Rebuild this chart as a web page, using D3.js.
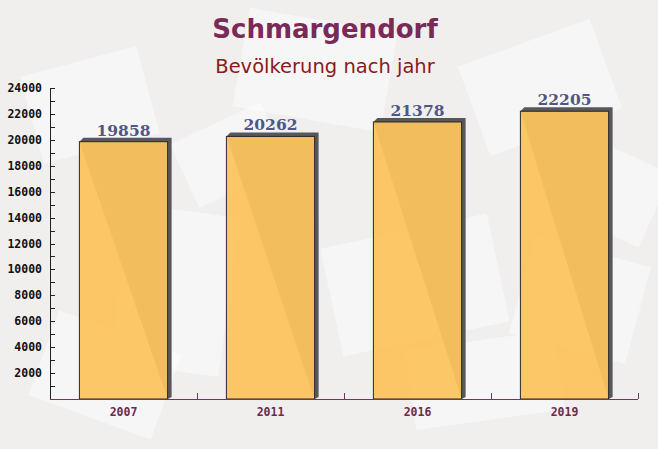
<!DOCTYPE html>
<html><head><meta charset="utf-8">
<script src="https://cdn.jsdelivr.net/npm/d3@7"></script>
<style>body{margin:0;padding:0;background:#fff}svg{display:block}</style>
</head><body>
<svg id="c" width="658" height="449"></svg>
<script>
const years = ["2007", "2011", "2016", "2019"];
const population = [19858, 20262, 21378, 22205];
const yTickValues = [2000, 4000, 6000, 8000, 10000, 12000, 14000, 16000, 18000, 20000, 22000, 24000];
const yMinorTicks = d3.range(1000, 24001, 1000);
const titleText = "Schmargendorf";
const subtitleText = "Bevölkerung nach jahr";

(function () {
const svg = d3.select("#c");
const W = 658, H = 449;
const pLeft = 50, pRight = 638, pTop = 88, pBottom = 399;

// background
svg.append("rect").attr("width", W).attr("height", H).attr("fill", "#f1eeee");
const bgShapes = [
  [30, 60, 120, 90, -15], [240, 20, 150, 100, 10], [470, 40, 140, 95, -20],
  [120, 210, 110, 160, 8], [330, 230, 170, 110, -12], [520, 250, 120, 100, 15],
  [40, 330, 130, 90, 20], [410, 340, 150, 80, -8], [560, 150, 100, 80, 25],
  [180, 120, 100, 70, -25]
];
svg.append("g").selectAll("rect").data(bgShapes).join("rect")
  .attr("x", d => d[0]).attr("y", d => d[1]).attr("width", d => d[2]).attr("height", d => d[3])
  .attr("transform", d => `rotate(${d[4]},${d[0] + d[2] / 2},${d[1] + d[3] / 2})`)
  .attr("fill", "#ffffff").attr("opacity", 0.45);

const x = d3.scaleBand().domain(years).range([pLeft, pRight]).paddingInner(0.4).paddingOuter(0.2);
const y = d3.scaleLinear().domain([0, 24000]).range([pBottom, pTop]);

// bars with 3D shadow
const g = svg.append("g");
const dep = 4;
population.forEach((v, i) => {
  const x0 = x(years[i]), x1 = x0 + x.bandwidth(), yt = y(v);
  g.append("path")
    .attr("d", `M${x0},${yt} L${x0 + dep},${yt - dep} L${x1 + dep},${yt - dep} L${x1 + dep},${pBottom - 2} L${x1},${pBottom} Z`)
    .attr("fill", "#58585c");
  g.append("rect").attr("x", x0).attr("y", yt).attr("width", x.bandwidth()).attr("height", pBottom - yt)
    .attr("fill", "#fcc35e").attr("opacity", 0.94);
  g.append("rect").attr("x", x0).attr("y", yt).attr("width", x.bandwidth()).attr("height", pBottom - yt)
    .attr("fill", "none").attr("stroke", "#2a2a2a").attr("stroke-width", 1);
  g.append("text").attr("x", x0 + x.bandwidth() / 2).attr("y", yt - 6)
    .attr("text-anchor", "middle").attr("font-family", "DejaVu Serif").attr("font-weight", "bold")
    .attr("font-size", 15.5).attr("fill", "#4e5785").text(v);
});

// y axis
const yAxis = svg.append("g").attr("transform", `translate(${pLeft},0)`);
yAxis.append("line").attr("x1", 0.5).attr("x2", 0.5).attr("y1", pTop).attr("y2", pBottom).attr("stroke", "#222");
yAxis.selectAll("line.t").data(yMinorTicks).join("line").attr("class", "t")
  .attr("x1", 0).attr("x2", 5).attr("y1", d => Math.round(y(d)) + 0.5).attr("y2", d => Math.round(y(d)) + 0.5)
  .attr("stroke", "#222");
yAxis.selectAll("text").data(yTickValues).join("text")
  .attr("x", -8).attr("y", d => y(d)).attr("dy", "0.35em").attr("text-anchor", "end")
  .attr("font-family", "DejaVu Sans Mono").attr("font-weight", "bold").attr("font-size", 11.5)
  .attr("fill", "#111").text(d => d);

// x axis
const xAxis = svg.append("g");
xAxis.append("line").attr("x1", pLeft).attr("x2", pRight).attr("y1", pBottom + 0.5).attr("y2", pBottom + 0.5).attr("stroke", "#6b3a5a");
const bounds = d3.range(1, years.length + 1).map(i => pLeft + i * x.step());
xAxis.selectAll("line.t").data(bounds).join("line").attr("class", "t")
  .attr("x1", d => Math.round(d) + 0.5).attr("x2", d => Math.round(d) + 0.5).attr("y1", pBottom - 6).attr("y2", pBottom)
  .attr("stroke", "#6b3a5a");
xAxis.selectAll("text").data(years).join("text")
  .attr("x", d => x(d) + x.bandwidth() / 2).attr("y", 416).attr("text-anchor", "middle")
  .attr("font-family", "DejaVu Sans Mono").attr("font-weight", "bold").attr("font-size", 11.5)
  .attr("fill", "#6b2a4f").text(d => d);

// titles
svg.append("text").attr("x", 325).attr("y", 38).attr("text-anchor", "middle")
  .attr("font-family", "DejaVu Sans").attr("font-weight", "bold").attr("font-size", 26)
  .attr("fill", "#7a2a56").text(titleText);
svg.append("text").attr("x", 325).attr("y", 73).attr("text-anchor", "middle")
  .attr("font-family", "DejaVu Sans").attr("font-size", 19.5)
  .attr("fill", "#8b1a1a").text(subtitleText);
})();
</script>
</body></html>
